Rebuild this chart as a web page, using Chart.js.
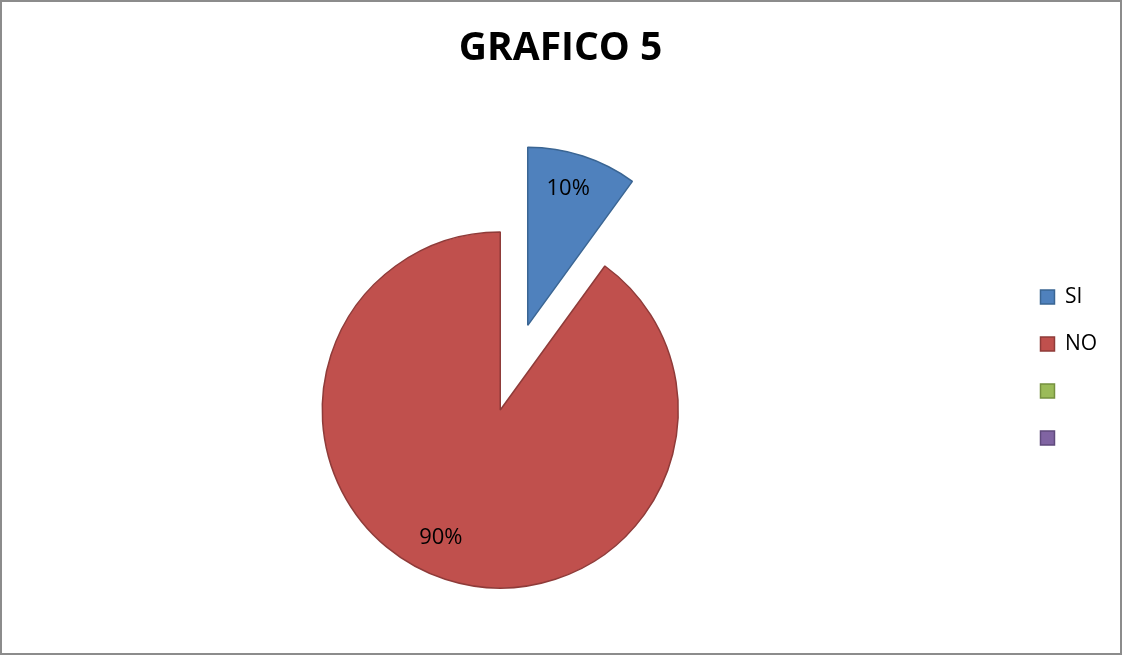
<!DOCTYPE html>
<html>
<head>
<meta charset="utf-8">
<script src="https://cdn.jsdelivr.net/npm/chart.js@4.4.1/dist/chart.umd.min.js"></script>
<style>
  html, body { margin: 0; padding: 0; background: #fff; overflow: hidden; }
  #wrap { position: relative; width: 1122px; height: 655px; overflow: hidden; }
  /* canvas is a bit larger than the page so the pie lands where the original has it */
  #pie { position: absolute; left: -14px; top: 0; }
  #frame {
    position: absolute; left: 0; top: 0; width: 1122px; height: 655px;
    box-sizing: border-box; border: 2px solid #8c8c8c; pointer-events: none;
  }
</style>
</head>
<body>
<div id="wrap">
  <canvas id="pie" width="1149" height="735"></canvas>
  <div id="frame"></div>
</div>
<script>
// ===== GRAFICO 5 — pie SI / NO =====

const categories = ['SI', 'NO', '', ''];
const values = [10, 90, 0, 0];

const fills   = ['#4f81bd', '#c0504d', '#9bbb59', '#8064a2'];
const borders = ['#3a6593', '#8f3b39', '#76913f', '#5f4a7c'];

// distance (px) each slice is pulled out of the pie
const explodeBy = [89, 0, 0, 0];
// label placement: fraction of radius, and a turn (deg) off the mid angle
const labelAt = [0.8, 0.79, 0.8, 0.8];
const labelTurn = [-1.5, 7, 0, 0];

// pull slices out along their mid angle
const explodePlugin = {
  id: 'explode',
  afterDatasetUpdate(chart, args) {
    args.meta.data.forEach((arc, i) => {
      const d = explodeBy[i] || 0;
      if (!d) return;
      const mid = (arc.startAngle + arc.endAngle) / 2;
      arc.x += Math.cos(mid) * d;
      arc.y += Math.sin(mid) * d;
    });
  }
};

// percentage labels inside the slices
const pctPlugin = {
  id: 'pctLabels',
  afterDatasetsDraw(chart) {
    const ctx = chart.ctx;
    const meta = chart.getDatasetMeta(0);
    const data = chart.data.datasets[0].data;
    const total = data.reduce((a, b) => a + b, 0);
    ctx.save();
    ctx.font = '22px "Open Sans"';
    ctx.fillStyle = '#000';
    ctx.textAlign = 'center';
    ctx.textBaseline = 'middle';
    meta.data.forEach((arc, i) => {
      if (!data[i]) return;
      const mid = (arc.startAngle + arc.endAngle) / 2 + labelTurn[i] * Math.PI / 180;
      const r = arc.outerRadius * labelAt[i];
      ctx.fillText(Math.round(data[i] / total * 100) + '%',
        arc.x + Math.cos(mid) * r, arc.y + Math.sin(mid) * r);
    });
    ctx.restore();
  }
};

const baseLabels = Chart.DoughnutController.overrides.plugins.legend.labels.generateLabels;

new Chart(document.getElementById('pie'), {
  type: 'pie',
  data: {
    labels: categories,
    datasets: [{
      data: values,
      backgroundColor: fills,
      borderColor: borders,
      borderWidth: 1.5,
      hoverOffset: 0,
      clip: false
    }]
  },
  options: {
    responsive: false,
    animation: false,
    events: [],
    radius: 178,
    layout: { padding: 0 },
    plugins: {
      title: {
        display: true,
        text: 'GRAFICO 5',
        color: '#000',
        font: { family: '"Open Sans"', size: 39, weight: 'bold' },
        padding: { top: 25, bottom: 13.2 }
      },
      legend: {
        display: true,
        position: 'right',
        labels: {
          color: '#000',
          font: { family: '"Open Sans"', size: 21 },
          boxWidth: 14, boxHeight: 14,
          padding: 26,
          // blank entries keep the legend as wide as the original
          generateLabels(chart) {
            const items = baseLabels(chart);
            items.forEach(it => { if (!it.text) it.text = ' '.repeat(11); });
            return items;
          }
        }
      },
      tooltip: { enabled: false }
    }
  },
  plugins: [explodePlugin, pctPlugin]
});
</script>
</body>
</html>
